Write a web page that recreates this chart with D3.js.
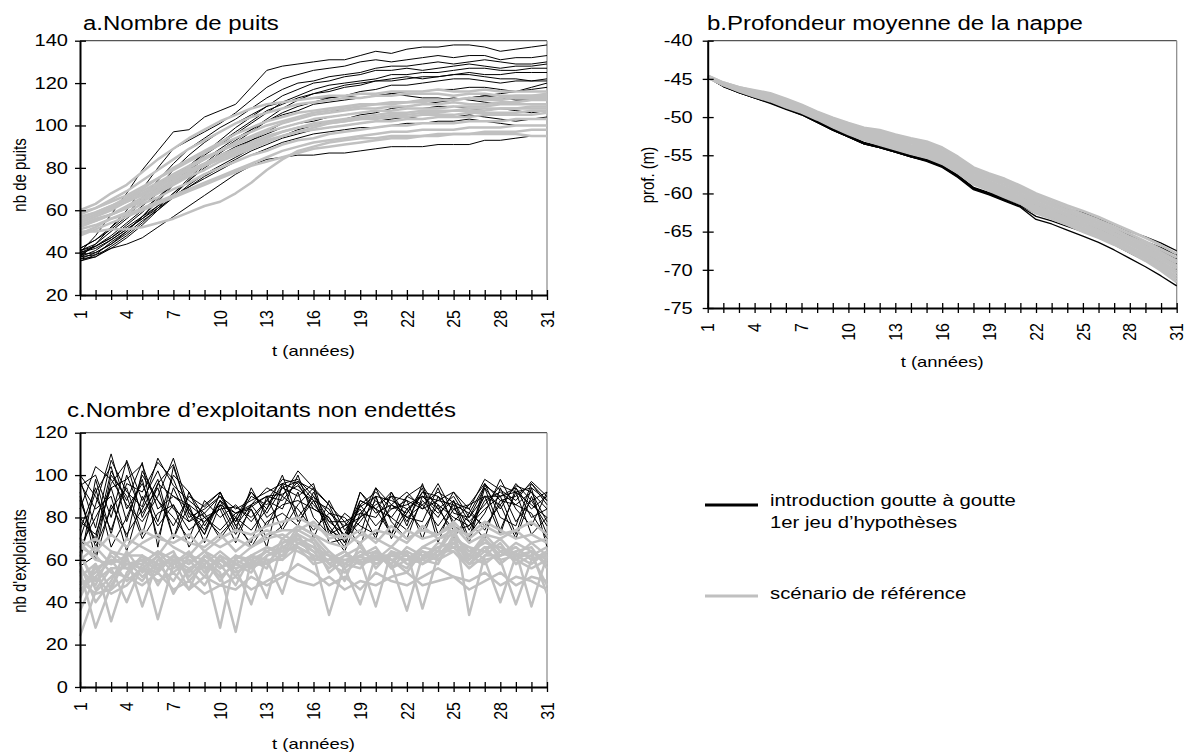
<!DOCTYPE html>
<html><head><meta charset="utf-8">
<script src="https://cdn.jsdelivr.net/npm/d3@7"></script>
<style>body{margin:0;background:#fff;} svg{display:block;} text{font-family:"Liberation Sans",Arial,sans-serif;fill:#000;}</style>
</head><body><svg id="chart" width="1184" height="753"></svg>
<script>
// ---------- data ----------
const years = [1,2,3,4,5,6,7,8,9,10,11,12,13,14,15,16,17,18,19,20,21,22,23,24,25,26,27,28,29,30,31];
const xTickLabels = [1,4,7,10,13,16,19,22,25,28,31];
const aYTicks = [20,40,60,80,100,120,140];
const bYTicks = [-75,-70,-65,-60,-55,-50,-45,-40];
const cYTicks = [0,20,40,60,80,100,120];

// a. Nombre de puits — introduction goutte à goutte (black)
const aBlack = [
 [40,48,58,68,79,88,97,98,104,107,110,118,126,128,129,130,131,131,133,135,134,136,137,137,138,138,137,135,136,137,138],
 [38,44,52,60,70,80,89,93,97,101,106,112,118,122,124,126,127,128,130,131,130,131,132,133,132,133,133,131,132,132,133],
 [42,46,52,58,66,74,82,89,94,99,103,108,113,117,120,121,123,124,125,127,128,128,129,130,129,130,131,130,129,129,130],
 [36,39,45,50,57,64,72,80,87,93,99,104,109,114,117,120,121,123,124,126,126,127,126,127,128,129,128,127,128,128,129],
 [39,40,44,50,57,65,73,79,86,91,96,101,106,111,114,117,119,120,121,122,124,124,125,125,126,127,127,126,126,127,127],
 [41,44,50,56,62,68,75,81,87,92,97,102,107,110,113,115,116,118,119,121,122,123,122,123,124,125,124,124,125,125,125],
 [37,38,42,47,53,60,67,74,81,87,92,97,102,106,109,111,113,114,116,117,119,119,120,121,122,122,121,120,121,121,122],
 [40,43,47,53,59,66,73,79,84,89,94,98,102,105,107,110,111,112,113,114,115,116,116,117,117,118,118,117,116,118,120],
 [38,41,46,51,56,62,68,74,80,85,89,93,97,101,103,105,106,108,109,110,110,111,112,112,113,112,111,110,111,112,112],
 [39,43,48,54,60,66,72,77,82,86,90,93,96,99,101,102,104,105,106,107,107,108,108,109,109,108,107,108,107,106,107],
 [37,40,44,49,55,60,66,71,76,80,84,88,91,94,96,98,99,100,101,102,103,104,103,104,104,105,104,103,102,103,104],
 [41,43,47,52,57,62,67,71,75,79,83,86,89,92,94,96,97,98,99,99,100,101,101,102,102,103,102,101,100,100,100],
 [38,39,42,44,47,52,57,62,67,72,77,81,84,85,86,86,87,87,88,89,90,90,90,91,91,91,93,93,94,95,95],
 [40,42,46,51,56,61,66,72,77,81,85,89,92,95,98,100,102,103,105,106,108,109,110,111,112,113,114,115,116,117,118],
 [36,38,43,48,54,61,68,75,82,88,93,98,103,108,112,115,117,119,120,121,121,122,123,123,124,124,123,122,122,121,121],
 [42,46,51,57,64,71,79,86,92,97,101,105,109,111,112,113,113,114,113,114,115,114,113,113,112,113,114,113,112,112,113]
];
// a. Nombre de puits — scénario de référence (grey)
const aGray = [
 [60,63,68,72,78,84,89,94,98,102,105,108,110,111,112,113,114,114,115,115,116,116,116,117,116,116,117,116,116,116,116],
 [58,61,65,69,74,79,84,89,93,97,101,104,106,108,110,111,112,113,113,114,114,115,115,115,114,115,115,114,114,114,115],
 [56,59,62,66,70,75,80,84,88,92,96,99,102,104,106,107,108,109,110,110,111,111,112,112,112,113,112,112,113,113,113],
 [54,57,60,64,68,72,76,80,84,88,92,95,98,101,103,105,106,107,108,108,109,109,110,110,111,110,110,111,111,112,112],
 [57,59,62,65,69,73,77,81,85,88,91,94,97,99,101,103,104,105,106,107,107,108,108,108,109,109,109,110,110,110,110],
 [52,55,58,62,66,70,74,78,82,85,88,91,94,97,99,101,102,103,104,105,106,106,107,107,107,108,108,108,108,109,109],
 [50,50,51,51,52,54,56,59,62,64,68,73,79,84,88,90,92,93,94,94,95,95,95,96,96,96,96,96,96,95,95],
 [55,58,61,64,67,71,75,79,82,86,89,92,95,97,99,100,101,102,103,103,104,104,105,105,105,106,106,106,106,107,107],
 [53,56,58,61,64,68,72,76,79,83,86,89,92,95,97,98,99,100,101,102,102,103,103,104,104,104,105,105,105,105,106],
 [49,52,56,59,63,66,70,73,77,80,83,86,88,91,93,94,96,97,98,99,100,100,101,101,101,102,102,102,103,103,103],
 [51,53,56,58,61,64,67,70,73,76,79,82,85,88,90,92,93,94,95,96,97,97,98,98,98,99,99,99,100,100,100],
 [48,51,54,57,60,63,66,69,72,75,78,81,83,85,87,89,90,91,92,93,94,94,95,95,96,96,97,97,97,98,98],
 [59,61,64,67,71,75,79,83,87,91,94,97,100,102,104,106,107,108,109,110,110,111,111,112,112,113,113,113,114,114,114],
 [53,55,58,61,65,69,73,77,81,84,87,90,93,95,97,99,101,102,103,104,105,105,106,106,107,107,107,108,108,108,108]
];

// b. Profondeur moyenne de la nappe — black
const bBlack = [
 [-44.8,-45.9,-46.7,-47.4,-48.0,-48.8,-49.5,-50.5,-51.5,-52.4,-53.3,-53.8,-54.4,-55.0,-55.5,-56.3,-57.6,-59.2,-59.9,-60.3,-60.6,-60.8,-61.4,-62.0,-62.5,-63.3,-64.1,-65.0,-65.7,-66.5,-67.5],
 [-44.8,-45.9,-46.7,-47.4,-48.0,-48.8,-49.5,-50.5,-51.6,-52.5,-53.4,-53.9,-54.5,-55.1,-55.6,-56.4,-57.7,-59.3,-60.0,-60.5,-61.0,-61.5,-62.1,-62.7,-63.2,-63.9,-64.6,-65.5,-66.3,-67.1,-68.0],
 [-44.8,-45.9,-46.7,-47.4,-48.1,-48.9,-49.6,-50.6,-51.6,-52.5,-53.4,-53.9,-54.5,-55.1,-55.6,-56.4,-57.7,-59.3,-60.0,-60.7,-61.4,-62.2,-62.8,-63.4,-64.0,-64.7,-65.5,-66.4,-67.2,-68.2,-69.2],
 [-44.8,-45.9,-46.8,-47.5,-48.1,-48.9,-49.6,-50.6,-51.7,-52.6,-53.5,-54.0,-54.6,-55.2,-55.7,-56.5,-57.8,-59.4,-60.1,-60.8,-61.6,-62.6,-63.2,-63.8,-64.5,-65.3,-66.1,-67.1,-68.0,-69.0,-70.1],
 [-44.8,-46.0,-46.8,-47.5,-48.2,-49.0,-49.7,-50.7,-51.7,-52.6,-53.5,-54.0,-54.6,-55.2,-55.8,-56.6,-57.9,-59.5,-60.2,-61.0,-61.8,-63.4,-64.0,-64.8,-65.6,-66.4,-67.4,-68.5,-69.6,-70.8,-72.1],
 [-44.8,-45.9,-46.7,-47.4,-48.0,-48.8,-49.5,-50.5,-51.6,-52.5,-53.4,-53.9,-54.5,-55.1,-55.6,-56.4,-57.7,-59.3,-60.0,-60.6,-61.2,-61.8,-62.4,-63.0,-63.6,-64.3,-65.0,-65.9,-66.7,-67.6,-68.6],
 [-44.8,-46.0,-46.8,-47.5,-48.1,-48.9,-49.7,-50.7,-51.7,-52.6,-53.5,-54.0,-54.6,-55.2,-55.7,-56.5,-57.8,-59.4,-60.1,-60.9,-61.7,-63.0,-63.6,-64.3,-65.0,-65.8,-66.7,-67.8,-68.8,-69.9,-71.0]
];
// b. — grey
const bGray = [
 [-44.6,-45.5,-46.1,-46.5,-46.9,-47.6,-48.4,-49.3,-50.1,-50.8,-51.4,-51.7,-52.3,-52.8,-53.2,-54.0,-55.2,-56.6,-57.4,-58.1,-59.0,-60.0,-60.8,-61.6,-62.3,-63.1,-64.0,-64.9,-65.8,-66.8,-67.9],
 [-44.6,-45.5,-46.1,-46.6,-47.0,-47.7,-48.5,-49.4,-50.2,-50.9,-51.6,-51.9,-52.5,-53.0,-53.5,-54.2,-55.4,-56.9,-57.7,-58.4,-59.3,-60.3,-61.1,-61.9,-62.7,-63.5,-64.4,-65.3,-66.3,-67.3,-68.4],
 [-44.7,-45.6,-46.2,-46.7,-47.1,-47.8,-48.6,-49.5,-50.3,-51.1,-51.7,-52.1,-52.7,-53.2,-53.7,-54.5,-55.7,-57.1,-57.9,-58.6,-59.5,-60.6,-61.4,-62.2,-63.0,-63.8,-64.7,-65.7,-66.6,-67.7,-68.8],
 [-44.7,-45.6,-46.2,-46.8,-47.2,-47.9,-48.7,-49.6,-50.4,-51.2,-51.9,-52.3,-52.9,-53.4,-53.9,-54.7,-55.9,-57.3,-58.1,-58.9,-59.7,-60.8,-61.6,-62.4,-63.2,-64.0,-64.9,-65.9,-66.9,-68.0,-69.1],
 [-44.7,-45.6,-46.3,-46.8,-47.3,-48.0,-48.8,-49.7,-50.6,-51.4,-52.1,-52.6,-53.1,-53.7,-54.1,-54.9,-56.1,-57.6,-58.4,-59.2,-60.0,-61.1,-61.9,-62.7,-63.5,-64.3,-65.2,-66.2,-67.2,-68.3,-69.5],
 [-44.7,-45.7,-46.3,-46.9,-47.4,-48.1,-48.9,-49.8,-50.7,-51.5,-52.2,-52.7,-53.3,-53.8,-54.3,-55.1,-56.3,-57.8,-58.6,-59.4,-60.2,-61.4,-62.1,-62.9,-63.7,-64.5,-65.4,-66.4,-67.4,-68.6,-69.8],
 [-44.8,-45.7,-46.4,-47.0,-47.5,-48.2,-49.0,-49.9,-50.8,-51.7,-52.4,-52.9,-53.5,-54.0,-54.5,-55.3,-56.5,-58.0,-58.8,-59.7,-60.5,-61.7,-62.4,-63.2,-64.0,-64.8,-65.7,-66.7,-67.7,-68.9,-70.2],
 [-44.8,-45.7,-46.4,-47.0,-47.6,-48.3,-49.1,-50.0,-50.9,-51.8,-52.5,-53.0,-53.6,-54.2,-54.7,-55.5,-56.7,-58.2,-59.0,-59.9,-60.7,-61.9,-62.6,-63.4,-64.2,-65.0,-66.0,-67.0,-68.0,-69.2,-70.5],
 [-44.8,-45.7,-46.5,-47.1,-47.7,-48.4,-49.2,-50.1,-51.0,-51.9,-52.7,-53.2,-53.8,-54.4,-54.9,-55.7,-56.9,-58.4,-59.2,-60.1,-60.9,-62.1,-62.8,-63.6,-64.5,-65.3,-66.2,-67.2,-68.2,-69.5,-70.9],
 [-44.8,-45.8,-46.5,-47.2,-47.8,-48.5,-49.3,-50.2,-51.1,-52.0,-52.8,-53.4,-54.0,-54.6,-55.1,-55.9,-57.1,-58.6,-59.4,-60.3,-61.1,-62.3,-63.0,-63.8,-64.7,-65.5,-66.5,-67.5,-68.5,-69.8,-71.2],
 [-44.8,-45.8,-46.6,-47.3,-47.9,-48.7,-49.4,-50.3,-51.3,-52.2,-53.0,-53.6,-54.2,-54.8,-55.3,-56.1,-57.3,-58.8,-59.6,-60.5,-61.3,-62.6,-63.3,-64.1,-65.0,-65.8,-66.7,-67.7,-68.8,-70.1,-71.6]
];

// c. Nombre d'exploitants non endettés — black
const cBlack = [
 [98,75,107,92,85,108,95,88,82,90,84,88,92,96,98,90,82,76,85,90,88,84,90,88,86,82,95,90,92,94,88],
 [70,92,104,78,100,88,76,90,85,92,78,90,86,94,97,93,86,70,80,94,86,82,92,86,80,76,90,86,95,92,84],
 [88,68,96,106,80,96,105,82,78,86,82,85,90,91,95,86,78,72,88,84,92,80,86,92,87,84,98,93,88,97,90],
 [62,86,110,84,96,78,100,92,76,88,80,92,84,96,93,88,74,70,78,88,80,90,95,84,90,78,86,95,92,86,80],
 [95,100,80,107,88,102,84,78,86,92,76,86,94,90,102,94,86,78,82,80,90,88,84,96,82,80,94,84,96,88,92],
 [78,72,94,98,105,84,90,86,80,84,85,80,88,98,96,84,80,68,86,92,84,86,90,82,88,74,88,92,86,92,78],
 [100,90,74,96,92,106,98,80,84,90,78,92,82,94,90,96,72,76,80,86,90,78,92,90,84,86,96,88,90,96,86],
 [84,104,98,86,78,90,108,84,74,88,82,86,90,88,97,88,84,70,92,82,86,92,84,88,92,80,90,90,94,84,90],
 [57,62,100,90,70,82,86,74,80,72,80,66,78,82,76,92,78,78,66,90,72,84,74,86,70,82,76,86,70,90,72],
 [92,60,86,72,84,98,70,86,68,86,72,84,70,76,92,70,88,74,84,70,92,76,96,72,84,78,70,94,78,88,76],
 [74,94,66,80,98,70,94,78,82,70,80,74,84,100,80,90,76,66,88,84,72,90,86,76,86,68,94,74,92,72,80],
 [96,84,90,64,90,76,86,66,78,84,68,86,76,90,84,74,82,80,72,94,78,70,90,84,74,76,84,90,72,94,66],
 [80,70,102,88,106,66,104,82,72,92,76,68,90,74,86,94,68,70,86,76,84,88,70,90,78,86,90,72,94,80,84],
 [58,98,72,100,82,94,70,92,80,74,82,84,66,96,78,88,74,64,82,90,70,82,94,68,88,70,96,80,76,96,88],
 [66,80,94,70,102,88,80,70,88,80,86,78,88,84,100,80,72,82,76,72,86,80,78,94,76,72,82,98,84,76,92],
 [90,66,84,94,72,96,90,84,72,88,74,94,80,86,88,84,80,68,92,84,80,74,88,80,92,84,74,88,86,82,70]
];
// c. — grey
const cGray = [
 [24,45,52,58,60,55,62,58,64,56,60,66,70,72,68,64,56,62,66,58,62,60,66,70,72,64,68,66,60,64,58],
 [55,28,48,60,52,58,50,62,56,60,54,58,64,68,72,60,64,58,62,66,56,64,60,66,68,62,72,64,66,60,62],
 [42,58,31,54,62,48,60,54,62,58,48,62,58,66,70,66,58,54,60,62,60,54,64,62,70,58,64,70,62,58,64],
 [62,50,56,40,58,64,56,60,52,62,58,54,66,62,74,70,62,50,68,56,64,58,60,68,66,66,60,62,68,64,60],
 [68,60,58,62,38,60,64,50,58,28,62,60,56,70,66,62,60,64,58,60,66,62,58,64,74,60,66,58,64,66,56],
 [48,54,62,56,60,32,58,62,60,54,26,60,64,60,72,68,54,60,62,64,58,66,62,60,68,62,70,60,62,68,62],
 [58,40,50,64,54,62,44,56,48,60,56,39,62,64,66,62,34,58,64,60,60,56,66,64,64,56,62,68,58,62,66],
 [66,62,54,52,62,58,60,46,62,56,62,58,42,68,70,64,62,56,39,62,62,60,60,58,72,62,58,64,60,56,60],
 [36,52,60,58,56,62,54,60,58,64,58,62,60,44,68,70,58,62,60,38,64,62,58,62,70,66,64,60,39,60,64],
 [52,58,46,62,62,56,62,52,60,50,60,56,62,66,64,60,60,64,58,62,58,36,62,66,68,60,70,62,64,38,62],
 [64,46,56,56,50,60,58,64,54,62,52,62,66,64,76,72,64,56,62,58,62,64,37,62,66,58,66,66,62,64,44],
 [45,56,60,50,56,54,62,58,64,60,56,58,58,62,68,66,62,60,58,64,60,62,60,64,78,34,62,62,66,60,62],
 [70,64,72,66,74,70,68,72,64,70,74,72,76,78,80,76,72,70,74,68,76,70,74,72,78,70,76,72,74,78,72],
 [56,48,64,58,58,64,60,56,60,52,58,56,60,60,66,58,60,58,56,64,56,60,64,60,64,58,60,40,62,62,48],
 [50,44,46,52,48,54,46,50,44,48,52,46,50,54,50,48,52,46,50,48,52,54,48,50,52,46,50,54,48,52,50],
 [60,66,58,70,66,62,72,68,66,72,64,70,74,70,76,72,68,66,72,70,66,74,70,72,76,68,72,70,74,68,70],
 [46,52,44,48,56,50,54,46,52,48,46,52,48,52,58,54,48,52,46,54,50,48,52,56,52,50,54,48,52,50,46],
 [66,70,64,62,68,72,66,62,70,66,70,66,72,74,74,78,70,72,68,74,72,68,76,70,74,72,78,74,70,72,68]
];

const legendLabels = ["introduction goutte à goutte", "1er jeu d\u2019hypothèses", "scénario de référence"];

// ---------- drawing ----------
const SX = 1.23;           // horizontal stretch of the original text
const BLACK = "#000", GREY = "#c0c0c0";
const svg = d3.select("#chart");
svg.append("rect").attr("width",1184).attr("height",753).attr("fill","#fff");

function txt(g, x, y, s, size, anchor, rot, dy, sx) {
  return g.append("text")
    .attr("transform", `translate(${x},${y}) scale(${sx || SX},1)` + (rot ? ` rotate(${rot})` : ""))
    .attr("font-size", size).attr("text-anchor", anchor || "start")
    .attr("dy", dy || 0).text(s);
}

function panel(o) {
  const g = svg.append("g");
  const x = d3.scaleLinear().domain([1,31]).range([o.x0, o.x1]);
  const y = d3.scaleLinear().domain(o.domain).range([o.yBot, o.yTop]);
  // frame (top + right)
  g.append("line").attr("x1",o.x0).attr("x2",o.x1).attr("y1",o.yTop).attr("y2",o.yTop).attr("stroke","#555").attr("stroke-width",1.2);
  g.append("line").attr("x1",o.x1).attr("x2",o.x1).attr("y1",o.yTop).attr("y2",o.yBot).attr("stroke","#888").attr("stroke-width",1.2);

  const line = d3.line().x((d,i) => x(years[i])).y(d => y(d));
  const drawSet = (set, col, w) => g.append("g").selectAll("path").data(set).join("path")
      .attr("d", line).attr("fill","none").attr("stroke",col).attr("stroke-width",w)
      .attr("stroke-linejoin","round");
  drawSet(o.black, BLACK, o.bw);
  drawSet(o.gray, GREY, o.gw);

  // axes
  const ya = g.append("g").attr("transform",`translate(${o.x0},0)`)
    .call(d3.axisLeft(y).tickValues(o.yTicks).tickFormat("").tickSizeOuter(0).tickSizeInner(5));
  ya.selectAll(".tick line").attr("x1",-5).attr("x2",6).attr("stroke","#000").attr("stroke-width",1.3);
  ya.select(".domain").attr("stroke","#000").attr("stroke-width",2);
  const xa = g.append("g").attr("transform",`translate(0,${o.yBot})`)
    .call(d3.axisBottom(x).tickValues(years).tickFormat("").tickSizeOuter(0).tickSizeInner(5));
  xa.selectAll(".tick line").attr("y1",-5).attr("y2",5).attr("stroke","#000").attr("stroke-width",1.3);
  xa.select(".domain").attr("stroke","#000").attr("stroke-width",2);

  // tick labels
  o.yTicks.forEach(v => txt(g, o.x0 - o.yLabOff, y(v), v, 16.3, "end", 0, "0.35em"));
  xTickLabels.forEach(v => txt(g, x(v), o.yBot + 15, v, 16, "end", -90, "0.35em", 1.18));

  // titles
  txt(g, o.titleX, o.titleY, o.title, 19.5, "start");
  txt(g, o.ylabX, o.ylabY, o.ylab, 15, "middle", -90);
  txt(g, (o.x0 + o.x1) / 2, o.xlabY, "t (années)", 15, "middle");
}

panel({x0:80, x1:547, yTop:40.7, yBot:295, domain:[20,140], yTicks:aYTicks,
  black:aBlack, gray:aGray, bw:1, gw:2.5, yLabOff:12,
  title:"a.Nombre de puits", titleX:83, titleY:30,
  ylab:"nb de puits", ylabX:26, ylabY:175, xlabY:356});

panel({x0:707.7, x1:1176.7, yTop:40.7, yBot:308, domain:[-75,-40], yTicks:bYTicks,
  black:bBlack, gray:bGray, bw:1.3, gw:2.8, yLabOff:15,
  title:"b.Profondeur moyenne de la nappe", titleX:707, titleY:30,
  ylab:"prof. (m)", ylabX:654, ylabY:175, xlabY:367});

panel({x0:80, x1:547, yTop:432.7, yBot:687, domain:[0,120], yTicks:cYTicks,
  black:cBlack, gray:cGray, bw:1, gw:2.5, yLabOff:12,
  title:"c.Nombre d\u2019exploitants non endettés", titleX:67, titleY:417,
  ylab:"nb d'exploitants", ylabX:26, ylabY:561, xlabY:749});

// legend
const lg = svg.append("g");
lg.append("line").attr("x1",705).attr("x2",758).attr("y1",505).attr("y2",505).attr("stroke",BLACK).attr("stroke-width",3);
lg.append("line").attr("x1",705).attr("x2",758).attr("y1",596).attr("y2",596).attr("stroke",GREY).attr("stroke-width",3);
txt(lg, 770, 506, legendLabels[0], 16.5, "start");
txt(lg, 770, 528, legendLabels[1], 16.5, "start");
txt(lg, 770, 599, legendLabels[2], 16.5, "start");
</script></body></html>
